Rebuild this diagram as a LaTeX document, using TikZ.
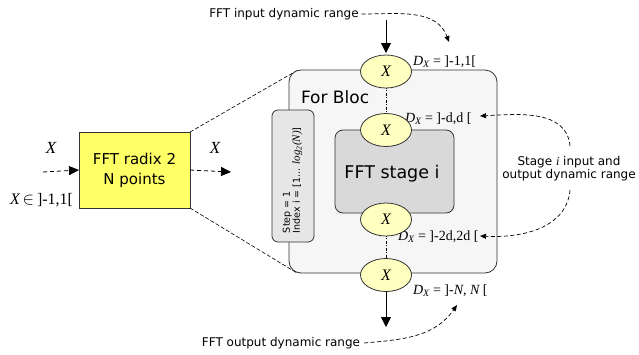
\documentclass[tikz,border=0pt]{standalone}
\usepackage{fontspec}
\setmainfont{DejaVu Sans}
\newfontfamily\tm{Liberation Serif}
\usetikzlibrary{shapes.geometric,arrows.meta}
\definecolor{yboxfill}{HTML}{FFFF66}
\definecolor{ellfill}{HTML}{FFFFC0}
\definecolor{bigfill}{HTML}{F6F6F6}
\definecolor{stepfill}{HTML}{E6E6E6}
\definecolor{stagefill}{HTML}{D9D9D9}
\definecolor{edge}{HTML}{333333}
\begin{document}
\begin{tikzpicture}[x=1pt,y=1pt,
  every node/.style={inner sep=0pt, outer sep=0pt},
  box/.style={draw=edge, line width=0.8pt},
  ell/.style={ellipse, draw=edge, line width=0.8pt, fill=ellfill, minimum width=51pt, minimum height=33pt, font=\fontsize{16}{18}\selectfont\tm\itshape},
  tiparrow/.style={-{Triangle[length=10pt,width=10pt]}, line width=0.8pt},
  dasharrow/.style={-{Triangle[length=10pt,width=9pt]}, line width=0.8pt, dash pattern=on 4pt off 3pt},
  curvearrow/.style={dash pattern=on 4pt off 2.5pt, line width=0.7pt, -{Triangle[length=6pt,width=5pt]}},
  zoomline/.style={dash pattern=on 4pt off 2pt, line width=0.6pt},
  linkline/.style={line width=0.6pt, dash pattern=on 3pt off 1.5pt on 1pt off 1.5pt},
  lbl/.style={font=\fontsize{14}{16}\selectfont\tm, anchor=base west},
  plain/.style={font=\fontsize{12}{13}\selectfont},
]
\fill[white] (0,0) rectangle (639,-354);
\useasboundingbox (0,0) rectangle (639,-354);

% zoom lines
\node[box, fill=yboxfill, minimum width=111pt, minimum height=76pt, align=center, font=\fontsize{15}{20}\selectfont] (yb) at (134.5,-170) {FFT radix 2\\N points};
\coordinate (zt) at (298,-70);
\coordinate (zb) at (297,-273);
\draw[zoomline] (yb.north east) -- (zt);
\draw[zoomline] (yb.south east) -- (zb);

% big block
\node[box, rounded corners=12pt, fill=bigfill, minimum width=208pt, minimum height=203pt] (blk) at (393,-171.5) {};
\node[anchor=base west, font=\fontsize{17}{20}\selectfont] (forbloc) at (301,-103) {For Bloc};

% step box
\node[box, rounded corners=6pt, fill=stepfill, minimum width=42pt, minimum height=132pt] (stepb) at (293,-176) {};
\node[rotate=90, anchor=west, align=left, font=\fontsize{9.5}{10}\selectfont] (steptxt) at (292.5,-233) {Step = 1\\Index i = [1... {\fontsize{11}{10}\selectfont\tm\itshape log\textsubscript{2}(N)}]};

% stage box
\node[box, rounded corners=8pt, fill=stagefill, minimum width=119pt, minimum height=83pt] (stage) at (394.5,-171.5) {};
\node[anchor=base, font=\fontsize{17.5}{20}\selectfont] (stagetxt) at (392,-178) {FFT stage i};

% range labels
\node[lbl] (d1) at (413,-65) {\itshape D\textsubscript{X}\upshape{} = ]-1,1[};
\node[lbl] (d2) at (405,-122) {\itshape D\textsubscript{X}\upshape{} = ]-d,d [};
\node[lbl] (d3) at (398,-240) {\itshape D\textsubscript{X}\upshape{} = ]-2d,2d [};
\node[lbl] (d4) at (413,-294) {\itshape D\textsubscript{X}\upshape{} = ]-{\itshape N}, {\itshape N} [};

% ellipses
\draw[linkline] (386,-71.5) -- (386,-130);
\draw[linkline] (386,-219.5) -- (386,-275);
\node[ell] (e1) at (386,-71.5) {X};
\node[ell] (e2) at (386,-130) {X};
\node[ell] (e3) at (386,-219.5) {X};
\node[ell] (e4) at (386,-275) {X};

% vertical arrows
\coordinate (inTop) at (386,-20);
\draw[tiparrow, shorten >=2pt] (inTop) -- (e1.north);
\coordinate (outBot) at (386,-327);
\draw[tiparrow] (e4.south) -- (outBot);

% side labels
\node[plain] (intxt) at (284,-14) {FFT input dynamic range};
\coordinate (inTip) at (449,-42);
\draw[curvearrow] ([xshift=3pt]intxt.east) to[out=0,in=110] (inTip);

\node[plain] (outtxt) at (281,-343) {FFT output dynamic range};
\coordinate (outTip) at (457,-305);
\draw[curvearrow] ([xshift=4pt]outtxt.east) to[out=5,in=-125] (outTip);

\node[plain, align=center] (stxt) at (569,-168.5) {Stage {\tm\itshape i} input and\\output dynamic range};
\coordinate (s1) at (570,-146);
\coordinate (s2) at (570,-190);
\coordinate (sTip1) at (480,-116);
\coordinate (sTip2) at (480,-236);
\draw[curvearrow] (s1) to[out=95,in=3] (sTip1);
\draw[curvearrow] (s2) to[out=-95,in=-3] (sTip2);

% left / right of yellow box
\coordinate (lin) at (43,-172);
\draw[dasharrow] (lin) -- (yb.west);
\coordinate (rout) at (231,-172);
\draw[dasharrow] (yb.east) -- (rout);
\node[font=\fontsize{17}{18}\selectfont\tm\itshape] (xl) at (51,-148) {X};
\node[font=\fontsize{17}{18}\selectfont\tm\itshape] (xr) at (215,-148) {X};
\node[font=\fontsize{16}{18}\selectfont\tm, anchor=base west] (xin) at (10,-204) {{\itshape X}$\,\in\,$]-1,1[};
\end{tikzpicture}
\end{document}
